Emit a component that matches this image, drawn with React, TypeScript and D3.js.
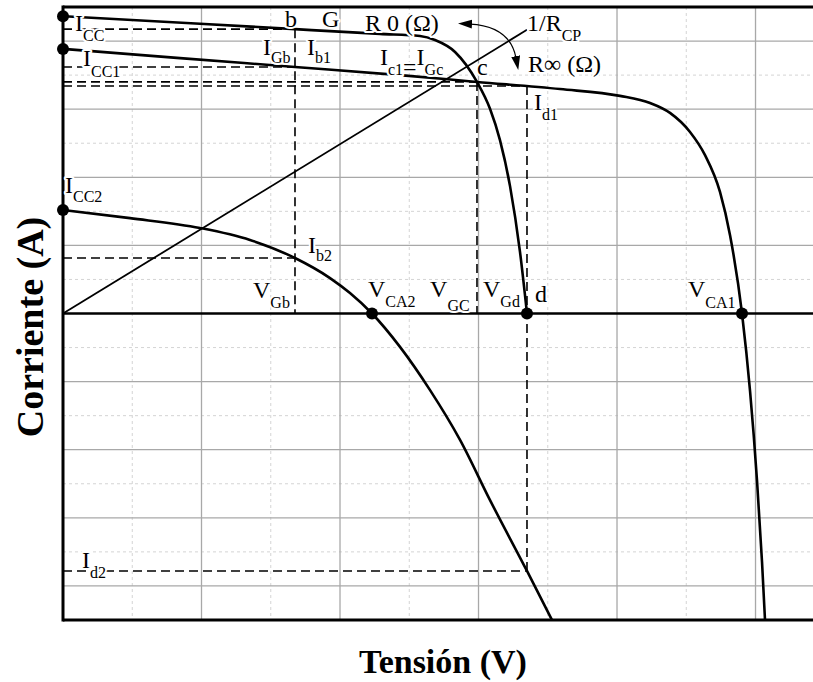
import React from 'react';
import * as d3 from 'd3';

const W = 813;
const H = 682;

// Axis units: minor grid steps (voltage on x, current on y)
const xMajorTicks = [2, 4, 6, 8, 10];
const xMinorTicks = [1, 3, 5, 7, 9];
const yMajorTicks = [-8, -6, -4, -2, 2, 4, 6, 8];
const yMinorTicks = [-7, -5, -3, -1, 1, 3, 5, 7];

// Curve G (I_CC)
const curveGV = [0, 1.978, 3.35, 4.578, 5.155, 5.372, 5.661, 5.978, 6.166, 6.31, 6.455, 6.599, 6.7];
const curveGI = [8.73, 8.51, 8.35, 8.21, 8.15, 8.03, 7.68, 6.8, 6.01, 5.09, 3.74, 1.81, 0];
// Curve 1 (I_CC1)
const curve1V = [0, 1.69, 3.35, 4.866, 5.978, 7.177, 8.043, 8.477, 8.765, 9.054, 9.271, 9.487, 9.632, 9.805, 9.921, 10.022, 10.094, 10.137];
const curve1I = [7.77, 7.5, 7.24, 7.0, 6.8, 6.59, 6.39, 6.18, 5.89, 5.33, 4.65, 3.57, 2.3, 0, -2.28, -4.92, -7.3, -9.0];
// Curve 2 (I_CC2)
const curve2V = [0, 0.968, 1.978, 2.7, 3.35, 3.856, 4.144, 4.462, 4.866, 5.3, 5.733, 6.166, 6.7, 7.061];
const curve2I = [3.04, 2.8, 2.51, 2.16, 1.63, 1.04, 0.6, 0, -0.98, -2.25, -3.71, -5.48, -7.56, -9.0];
// Load line 1/R_CP
const loadV = [0, 6.7];
const loadI = [0, 8.33];

// Marked points
const dotV = [0, 0, 0, 4.462, 6.7, 9.805];
const dotI = [8.73, 7.77, 3.04, 0, 0, 0];

// Dashed guides: from (v1,i1) to (v2,i2)
const guideV1 = [0, 0, 0, 0, 3.35, 5.978, 6.7, 0, 0];
const guideI1 = [8.35, 7.24, 6.8, 6.68, 8.35, 6.8, 6.68, 1.63, -7.56];
const guideV2 = [3.35, 3.35, 5.978, 6.7, 3.35, 5.978, 6.7, 3.35, 6.7];
const guideI2 = [8.35, 7.24, 6.8, 6.68, 0, 0, -7.56, 1.63, -7.56];

// Labels: parts [text, isSub]
type Part = [string, boolean];
const labelParts: Part[][] = [
  [['I', false], ['CC', true]],
  [['b', false]],
  [['G', false]],
  [['R 0 (Ω)', false]],
  [['1/R', false], ['CP', true]],
  [['R∞ (Ω)', false]],
  [['I', false], ['c1', true], ['=', true], ['I', false], ['Gc', true]],
  [['c', false]],
  [['I', false], ['d1', true]],
  [['I', false], ['CC1', true]],
  [['I', false], ['Gb', true]],
  [['I', false], ['b1', true]],
  [['I', false], ['CC2', true]],
  [['I', false], ['b2', true]],
  [['V', false], ['Gb', true]],
  [['V', false], ['CA2', true]],
  [['V', false], ['GC', true]],
  [['V', false], ['Gd', true]],
  [['d', false]],
  [['V', false], ['CA1', true]],
  [['I', false], ['d2', true]],
];
const labelV = [0.173, 3.206, 3.74, 4.361, 6.7, 6.715, 4.577, 5.978, 6.8, 0.289, 2.888, 3.523, 0.029, 3.538, 2.744, 4.404, 5.3, 6.065, 6.816, 9.025, 0.274];
const labelI = [8.3, 8.41, 8.41, 8.3, 8.3, 7.09, 7.3, 7.0, 5.98, 7.27, 7.59, 7.59, 3.54, 1.775, 0.455, 0.485, 0.485, 0.485, 0.34, 0.485, -7.476];
const subDy = [10, 10, 10, 10, 10, 10, 10, 10, 10, 11, 8, 8, 9, 8, 10, 10, 14, 10, 10, 11, 10];

// Curved arrow R0 <-> R∞
const arrowV = [5.877, 6.455, 6.542];
const arrowI = [8.5, 8.44, 7.5];

export default function App() {
  const x = d3.scaleLinear().domain([0, 10.83]).range([63, 813]);
  const y = d3.scaleLinear().domain([-9, 9]).range([620, 7]);

  const line = d3
    .line<[number, number]>()
    .x((d) => x(d[0]))
    .y((d) => y(d[1]))
    .curve(d3.curveMonotoneX);
  const zip = (a: number[], b: number[]) => a.map((v, i) => [v, b[i]] as [number, number]);

  const serif = "'Liberation Serif', 'Times New Roman', serif";
  const x0 = x(0);
  const xR = W;

  const arrowPath = `M${x(arrowV[0])},${y(arrowI[0])} Q${x(arrowV[1])},${y(arrowI[1])} ${x(arrowV[2])},${y(arrowI[2])}`;

  return (
    <svg width={W} height={H} style={{ position: 'absolute', left: 0, top: 0, background: '#fff' }}>
      <defs>
        <marker id="ah" markerUnits="userSpaceOnUse" markerWidth="16" markerHeight="10" refX="2" refY="4.5" orient="auto-start-reverse">
          <path d="M0,0 L14,4.5 L0,9 z" fill="#000" />
        </marker>
      </defs>
      <rect x={0} y={0} width={W} height={H} fill="#fff" />
      {/* minor grid */}
      {xMinorTicks.map((t) => (
        <line key={'xm' + t} x1={x(t)} x2={x(t)} y1={y(9)} y2={y(-9)} stroke="#d4d4d4" strokeWidth={1} strokeDasharray="3,3" />
      ))}
      {yMinorTicks.map((t) => (
        <line key={'ym' + t} x1={x0} x2={xR} y1={y(t)} y2={y(t)} stroke="#d4d4d4" strokeWidth={1} strokeDasharray="3,3" />
      ))}
      {/* major grid */}
      {xMajorTicks.map((t) => (
        <line key={'xM' + t} x1={x(t)} x2={x(t)} y1={y(9)} y2={y(-9)} stroke="#a8a8a8" strokeWidth={1.3} />
      ))}
      {yMajorTicks.map((t) => (
        <line key={'yM' + t} x1={x0} x2={xR} y1={y(t)} y2={y(t)} stroke="#a8a8a8" strokeWidth={1.3} />
      ))}
      {/* frame */}
      <line x1={x0} x2={xR} y1={y(9)} y2={y(9)} stroke="#000" strokeWidth={3} />
      <line x1={x0} x2={xR} y1={y(-9)} y2={y(-9)} stroke="#000" strokeWidth={3} />
      <line x1={x0} x2={x0} y1={y(9) - 1.5} y2={y(-9) + 1.5} stroke="#000" strokeWidth={3} />
      <line x1={x0} x2={xR} y1={y(0)} y2={y(0)} stroke="#000" strokeWidth={2.5} />

      {/* dashed guides */}
      {guideV1.map((v, i) => (
        <line key={'g' + i} x1={x(v)} y1={y(guideI1[i])} x2={x(guideV2[i])} y2={y(guideI2[i])} stroke="#000" strokeWidth={1.6} strokeDasharray="9,5" />
      ))}

      {/* curves */}
      <path d={line(zip(curveGV, curveGI)) || ''} fill="none" stroke="#000" strokeWidth={2.6} />
      <path d={line(zip(curve1V, curve1I)) || ''} fill="none" stroke="#000" strokeWidth={2.6} />
      <path d={line(zip(curve2V, curve2I)) || ''} fill="none" stroke="#000" strokeWidth={2.6} />
      <path d={line(zip(loadV, loadI)) || ''} fill="none" stroke="#000" strokeWidth={1.8} />

      {/* arrow */}
      <path d={arrowPath} fill="none" stroke="#000" strokeWidth={1.2} markerStart="url(#ah)" markerEnd="url(#ah)" />

      {/* dots */}
      {dotV.map((v, i) => (
        <circle key={'d' + i} cx={x(v)} cy={y(dotI[i])} r={6} fill="#000" />
      ))}

      {/* labels */}
      {labelParts.map((parts, i) => {
        let level = 0;
        return (
          <text
            key={'l' + i}
            x={x(labelV[i])}
            y={y(labelI[i])}
            fontFamily={serif}
            fontSize={24}
            fill="#000"
            stroke="#fff"
            strokeWidth={4}
            strokeLinejoin="round"
            paintOrder="stroke"
          >
            {parts.map(([t, sub], j) => {
              const target = sub ? subDy[i] : 0;
              const dy = target - level;
              level = target;
              return (
                <tspan key={j} dy={dy} fontSize={sub && t !== '=' ? 16 : 24}>
                  {t}
                </tspan>
              );
            })}
          </text>
        );
      })}

      {/* axis titles */}
      <text x={443} y={673} textAnchor="middle" fontFamily={serif} fontWeight="bold" fontSize={34} fill="#000">
        Tensión (V)
      </text>
      <text transform="translate(43,327) rotate(-90)" textAnchor="middle" fontFamily={serif} fontWeight="bold" fontSize={38} fill="#000">
        Corriente (A)
      </text>
    </svg>
  );
}
